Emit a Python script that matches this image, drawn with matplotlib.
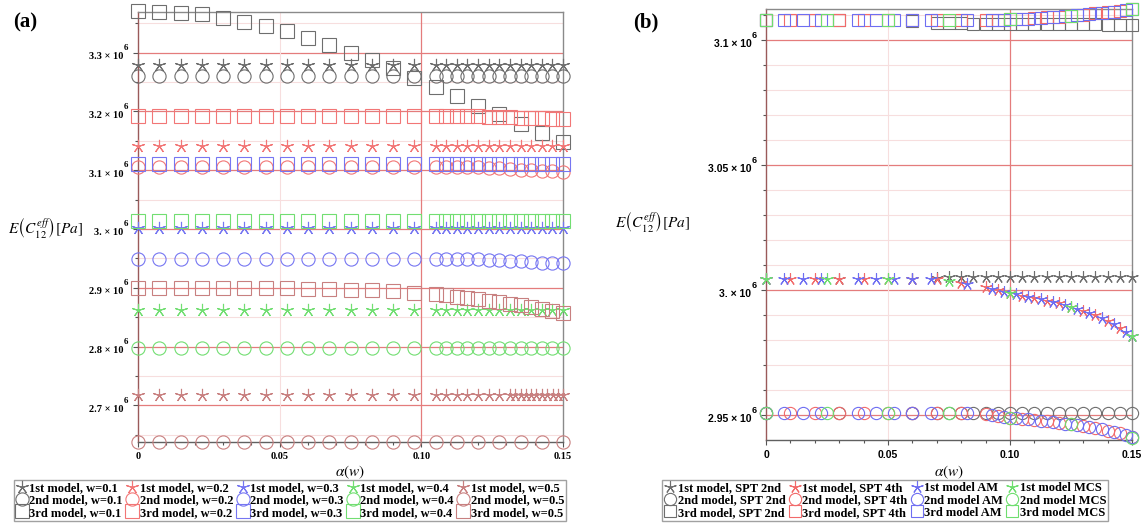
import numpy as np
import matplotlib
matplotlib.use('Agg')
import matplotlib.pyplot as plt
import matplotlib.transforms as mtransforms
from matplotlib.lines import Line2D
from matplotlib.font_manager import FontProperties

plt.rcParams['mathtext.fontset'] = 'stix'

# ---------------- panel (a) data ----------------
w_labels = ['0.1', '0.2', '0.3', '0.4', '0.5']

x_coarse = [0, 0.0075, 0.015, 0.0225, 0.03, 0.0375, 0.045, 0.0525, 0.06, 0.0675, 0.075,
            0.0825, 0.09, 0.0975, 0.105, 0.1125, 0.12, 0.1275, 0.135, 0.1425, 0.15]
x_fine = [0, 0.0075, 0.015, 0.0225, 0.03, 0.0375, 0.045, 0.0525, 0.06, 0.0675, 0.075,
          0.0825, 0.09, 0.0975, 0.105, 0.10875, 0.1125, 0.11625, 0.12, 0.12375, 0.1275,
          0.13125, 0.135, 0.13875, 0.1425, 0.14625, 0.15]
x_tail = x_fine[:22] + [0.1331, 0.135, 0.1369, 0.1388, 0.1406, 0.1425, 0.1444, 0.1463,
                        0.1481, 0.15]

# flat rows (value read once from the picture)
star_w1, circ_w1 = 3.279, 3.260
star_w2 = 3.141
star_w3, sq_w3 = 3.002, 3.111
star_w4, circ_w4, sq_w4 = 2.862, 2.798, 3.014
star_w5, circ_w5 = 2.718, 2.638

# curved rows
sq_w1 = [3.370, 3.369, 3.367, 3.365, 3.359, 3.352, 3.345, 3.336, 3.325, 3.313, 3.300,
         3.288, 3.274, 3.257, 3.242, 3.227, 3.210, 3.196, 3.179, 3.164, 3.148]
circ_w2 = [3.105, 3.105, 3.105, 3.105, 3.105, 3.105, 3.105, 3.105, 3.105, 3.105, 3.105,
           3.105, 3.105, 3.105, 3.105, 3.105, 3.105, 3.105, 3.105, 3.104, 3.103,
           3.102, 3.101, 3.100, 3.099, 3.098, 3.097]
sq_w2 = [3.192, 3.192, 3.192, 3.192, 3.192, 3.192, 3.192, 3.192, 3.192, 3.192, 3.192,
         3.192, 3.192, 3.192, 3.192, 3.192, 3.192, 3.192, 3.192, 3.191, 3.190,
         3.190, 3.189, 3.188, 3.188, 3.187, 3.187]
circ_w3 = [2.949, 2.949, 2.949, 2.949, 2.949, 2.949, 2.949, 2.949, 2.949, 2.949, 2.949,
           2.949, 2.949, 2.949, 2.949, 2.949, 2.949, 2.949, 2.949, 2.948, 2.947,
           2.946, 2.945, 2.944, 2.943, 2.942, 2.942]
sq_w5 = [2.900, 2.900, 2.900, 2.900, 2.900, 2.899, 2.899, 2.899, 2.898, 2.898, 2.897,
         2.896, 2.895, 2.892, 2.889, 2.887, 2.885, 2.883, 2.881, 2.878, 2.876,
         2.873, 2.870, 2.867, 2.864, 2.861, 2.857]

# ---------------- panel (b) data ----------------
methods_b = ['SPT 2nd', 'SPT 4th', 'AM', 'MCS']

x_spt2 = [0, 0.03, 0.06, 0.07, 0.075, 0.08, 0.085, 0.09, 0.095, 0.1, 0.105, 0.11,
          0.115, 0.12, 0.125, 0.13, 0.135, 0.14, 0.145, 0.15]
star_spt2 = [3.0044, 3.0044, 3.0046, 3.0050, 3.0051, 3.0051, 3.0052, 3.0052, 3.0052,
             3.0052, 3.0052, 3.0052, 3.0052, 3.0052, 3.0052, 3.0052, 3.0052, 3.0052,
             3.0052, 3.0052]
circ_spt2 = 2.9508
sq_spt2 = [3.1080, 3.1080, 3.1075, 3.1068, 3.1067, 3.1067, 3.1066, 3.1066, 3.1065,
           3.1065, 3.1065, 3.1064, 3.1064, 3.1064, 3.1063, 3.1063, 3.1063, 3.1062,
           3.1062, 3.1062]

x_spt4 = [0, 0.01, 0.02, 0.03, 0.04, 0.05, 0.06, 0.07, 0.08, 0.09, 0.095, 0.1, 0.105,
          0.11, 0.115, 0.12, 0.125, 0.13, 0.135, 0.14, 0.145, 0.15]
star_spt4 = [3.0044, 3.0044, 3.0044, 3.0044, 3.0044, 3.0044, 3.0044, 3.0044, 3.0030,
             3.0012, 3.0000, 2.9988, 2.9978, 2.9968, 2.9958, 2.9947, 2.9934, 2.9918,
             2.9899, 2.9877, 2.9850, 2.9815]
circ_spt4 = [2.9507, 2.9507, 2.9507, 2.9507, 2.9507, 2.9507, 2.9507, 2.9507, 2.9507,
             2.9502, 2.9496, 2.9490, 2.9485, 2.9480, 2.9475, 2.9469, 2.9462, 2.9455,
             2.9447, 2.9438, 2.9428, 2.9414]
sq_spt4 = [3.1080, 3.1080, 3.1080, 3.1080, 3.1080, 3.1080, 3.1080, 3.1080, 3.1080,
           3.1080, 3.1081, 3.1083, 3.1085, 3.1088, 3.1091, 3.1094, 3.1098, 3.1102,
           3.1107, 3.1112, 3.1117, 3.1123]

x_am = [0, 0.0075, 0.015, 0.0225, 0.0375, 0.045, 0.0525, 0.06, 0.0675, 0.0825, 0.0925,
        0.0975, 0.1025, 0.1075, 0.1125, 0.1175, 0.1225, 0.1275, 0.1325, 0.1375, 0.1425,
        0.1475, 0.15]
star_am = [3.0044, 3.0044, 3.0044, 3.0044, 3.0044, 3.0044, 3.0044, 3.0044, 3.0044,
           3.0026, 3.0006, 2.9994, 2.9983, 2.9973, 2.9963, 2.9952, 2.9941, 2.9926,
           2.9909, 2.9888, 2.9864, 2.9833, 2.9815]
circ_am = [2.9507, 2.9507, 2.9507, 2.9507, 2.9507, 2.9507, 2.9507, 2.9507, 2.9507,
           2.9507, 2.9499, 2.9493, 2.9488, 2.9483, 2.9478, 2.9472, 2.9466, 2.9459,
           2.9451, 2.9443, 2.9433, 2.9421, 2.9414]
sq_am = [3.1080, 3.1080, 3.1080, 3.1080, 3.1080, 3.1080, 3.1080, 3.1080, 3.1080,
         3.1080, 3.1080, 3.1082, 3.1084, 3.1086, 3.1089, 3.1092, 3.1096, 3.1100,
         3.1104, 3.1109, 3.1114, 3.1120, 3.1123]

x_mcs = [0, 0.025, 0.05, 0.075, 0.1, 0.125, 0.15]
star_mcs = [3.0044, 3.0044, 3.0044, 3.0038, 2.9988, 2.9934, 2.9818]
circ_mcs = [2.9507, 2.9507, 2.9507, 2.9507, 2.9490, 2.9462, 2.9408]
sq_mcs = [3.1080, 3.1080, 3.1080, 3.1080, 3.1083, 3.1098, 3.1125]

# ---------------- styling ----------------
W, H = 1143, 524
STAR = (5, 2, 0)
col_a = ['#6e6e6e', '#f27676', '#7676f2', '#72de72', '#c88080']
col_b = ['#6e6e6e', '#f26a6a', '#6e6ef2', '#6ede6e']
red_major = '#e47c7c'
red_minor = '#f7dede'
serif_b = FontProperties(family='Liberation Serif', weight='bold', size=7.5)
sans_b = FontProperties(family='Liberation Sans', weight='bold', size=7.5)


def px_rect(l, t, r, b):
  return [l / W, 1 - b / H, (r - l) / W, (b - t) / H]


def flat(level, xs):
  return np.full(len(xs), level)


def draw(ax, xs, ys, marker, color, ms):
  ax.plot(xs, ys, ls='none', marker=marker, ms=ms, mfc='none', mec=color,
          mew=0.8, clip_on=False, zorder=3)


def style_axes(ax, ylim, y_major, y_minor, y_labels, fp):
  ax.set_xlim(0, 0.15)
  ax.set_ylim(*ylim)
  for y in y_minor:
    ax.axhline(y, color=red_minor, lw=0.8, zorder=1)
  for y in y_major:
    ax.axhline(y, color=red_major, lw=0.9, zorder=1)
  ax.axvline(0.05, color=red_minor, lw=0.8, zorder=1)
  ax.axvline(0.10, color=red_major, lw=0.9, zorder=1)
  ax.set_xticks([0, 0.05, 0.10, 0.15], ['0', '0.05', '0.10', '0.15'])
  ax.set_xticks([0.01, 0.02, 0.03, 0.04, 0.06, 0.07, 0.08, 0.09, 0.11, 0.12, 0.13, 0.14],
                minor=True)
  ax.set_yticks(y_major, y_labels)
  ax.set_yticks(y_minor, minor=True)
  ax.tick_params(which='both', direction='out', color='#555555', width=0.8)
  ax.tick_params(which='major', length=3.5)
  ax.tick_params(which='minor', length=2)
  ax.tick_params(axis='y', pad=7)
  ax.tick_params(axis='x', pad=4)
  for lab in ax.get_xticklabels() + ax.get_yticklabels():
    lab.set_fontproperties(fp)
  shift = mtransforms.ScaledTranslation(0, -3 / 100, ax.figure.dpi_scale_trans)
  for lab in ax.get_yticklabels():
    lab.set_transform(lab.get_transform() + shift)
  for y in y_major:
    ax.annotate('6', xy=(0, y), xycoords=('axes fraction', 'data'), xytext=(-8.5, 3.5),
                textcoords='offset points', ha='center', va='center',
                fontproperties=FontProperties(family=fp.get_family(), weight='bold', size=6.5),
                annotation_clip=False)
  for s in ['top', 'right']:
    ax.spines[s].set_color('#8a8a8a')
  ax.spines['bottom'].set_color('#606060')
  ax.spines['left'].set_color('#9a5a5a')
  for s in ax.spines.values():
    s.set_linewidth(1.0)


fig = plt.figure(figsize=(W / 100, H / 100), dpi=100)
ax_a = fig.add_axes(px_rect(138, 12, 563, 442))
ax_b = fig.add_axes(px_rect(766, 9, 1132, 440))

# ---- panel (a) ----
ms_a = 9.5
rows_a = [
    [(x_fine, flat(star_w1, x_fine)), (x_fine, flat(circ_w1, x_fine)), (x_coarse, sq_w1)],
    [(x_fine, flat(star_w2, x_fine)), (x_fine, circ_w2), (x_fine, sq_w2)],
    [(x_fine, flat(star_w3, x_fine)), (x_fine, circ_w3), (x_fine, flat(sq_w3, x_fine))],
    [(x_fine, flat(star_w4, x_fine)), (x_fine, flat(circ_w4, x_fine)), (x_fine, flat(sq_w4, x_fine))],
    [(x_tail, flat(star_w5, x_tail)), (x_coarse, flat(circ_w5, x_coarse)), (x_fine, sq_w5)],
]
markers = [STAR, 'o', 's']
model_names = ['1st model', '2nd model', '3rd model']
handles_a = []
for c, (w, row) in enumerate(zip(w_labels, rows_a)):
  for m, (xs, ys) in enumerate(row):
    draw(ax_a, xs, ys, markers[m], col_a[c], ms_a)
    handles_a.append(Line2D([], [], ls='none', marker=markers[m], ms=ms_a, mfc='none',
                            mec=col_a[c], mew=0.8, label=f'{model_names[m]}, w={w}'))

style_axes(ax_a, (2.6378, 3.369), [2.7, 2.8, 2.9, 3.0, 3.1, 3.2, 3.3],
           [2.65, 2.75, 2.85, 2.95, 3.05, 3.15, 3.25, 3.35],
           ['2.7 × 10', '2.8 × 10', '2.9 × 10', '3. × 10', '3.1 × 10', '3.2 × 10', '3.3 × 10'],
           serif_b)

# ---- panel (b) ----
ms_b = 8.8
rows_b = [
    [(x_spt2, star_spt2), (x_spt2, flat(circ_spt2, x_spt2)), (x_spt2, sq_spt2)],
    [(x_spt4, star_spt4), (x_spt4, circ_spt4), (x_spt4, sq_spt4)],
    [(x_am, star_am), (x_am, circ_am), (x_am, sq_am)],
    [(x_mcs, star_mcs), (x_mcs, circ_mcs), (x_mcs, sq_mcs)],
]
handles_b = []
for c, (meth, row) in enumerate(zip(methods_b, rows_b)):
  for m, (xs, ys) in enumerate(row):
    draw(ax_b, xs, ys, markers[m], col_b[c], ms_b)
    sep = ', ' if meth.startswith('SPT') else ' '
    handles_b.append(Line2D([], [], ls='none', marker=markers[m], ms=ms_b, mfc='none',
                            mec=col_b[c], mew=0.8, label=f'{model_names[m]}{sep}{meth}'))

style_axes(ax_b, (2.94, 3.1124), [2.95, 3.0, 3.05, 3.1],
           [2.96, 2.97, 2.98, 2.99, 3.01, 3.02, 3.03, 3.04, 3.06, 3.07, 3.08, 3.09, 3.11],
           ['2.95 × 10', '3. × 10', '3.05 × 10', '3.1 × 10'], sans_b)

# ---- labels ----
ylab = r'$E\left(C_{12}^{eff}\right)[Pa]$'
fig.text(45 / W, 1 - 227 / H, ylab, ha='center', va='center', fontsize=11)
fig.text(652 / W, 1 - 222 / H, ylab, ha='center', va='center', fontsize=11)
fig.text(350 / W, 1 - 472 / H, r'$\alpha(w)$', ha='center', va='center', fontsize=11)
fig.text(949 / W, 1 - 472 / H, r'$\alpha(w)$', ha='center', va='center', fontsize=11)
fig.text(25 / W, 1 - 22 / H, '(a)', ha='center', va='center', fontsize=15,
         fontweight='bold', family='Liberation Serif')
fig.text(646 / W, 1 - 22 / H, '(b)', ha='center', va='center', fontsize=15,
         fontweight='bold', family='Liberation Serif')

leg_font = FontProperties(family='Liberation Serif', weight='bold', size=9)
leg_kw = dict(loc='center', frameon=True, fancybox=False, edgecolor='#8a8a8a',
              prop=leg_font, handlelength=1.0, handletextpad=0.1, columnspacing=0.25,
              labelspacing=0.02, borderpad=0.15, borderaxespad=0)
leg_a = fig.legend(handles=handles_a, ncol=5, bbox_to_anchor=(290 / W, 1 - 500.5 / H), **leg_kw)
leg_b = fig.legend(handles=handles_b, ncol=4, bbox_to_anchor=(885 / W, 1 - 500.5 / H), **leg_kw)
for leg in (leg_a, leg_b):
  leg.get_frame().set_linewidth(1.0)

fig.savefig('out.png', dpi=100)
